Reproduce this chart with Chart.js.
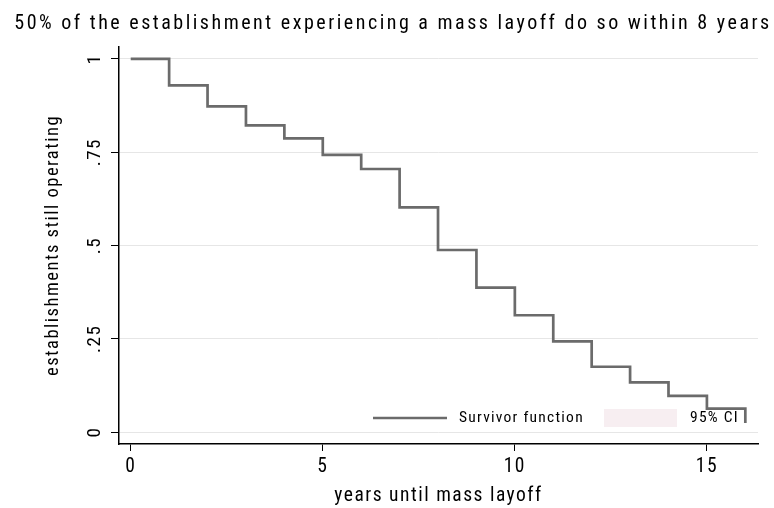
<!DOCTYPE html>
<html>
<head>
<meta charset="utf-8">
<script src="https://cdn.jsdelivr.net/npm/chart.js@4.4.1/dist/chart.umd.min.js"></script>
<style>
  html, body { margin: 0; padding: 0; background: #fff; }
  #wrap { width: 774px; height: 508px; }
</style>
</head>
<body>
<div id="wrap"><canvas id="km" width="774" height="508"></canvas></div>
<script>
// Kaplan-Meier estimate: share of establishments without a mass layoff
const chartTitle = '50% of the establishment experiencing a mass layoff do so within 8 years';
const years = [0, 1, 2, 3, 4, 5, 6, 7, 8, 9, 10, 11, 12, 13, 14, 15, 16];
const survivor = [1, 0.929, 0.873, 0.822, 0.787, 0.743, 0.705, 0.602, 0.488, 0.387,
                  0.313, 0.243, 0.175, 0.133, 0.097, 0.063, 0.024];
const xTickValues = [0, 5, 10, 15];
const yTickValues = [0, 0.25, 0.5, 0.75, 1];
const yTickLabels = ['0', '.25', '.5', '.75', '1'];
const seriesLabels = ['Survivor function', '95% CI'];

const FONT = "'Roboto Condensed', 'Liberation Sans', Arial, sans-serif";
const LINE_GREY = '#6b6b6b';
const CI_PINK = '#f7eef1';

// title, rotated y tick labels and the in-plot legend, stata style
const stataText = {
  id: 'stataText',
  beforeDraw(chart) {
    chart.ctx.letterSpacing = '1.5px';
  },
  afterDraw(chart) {
    const ctx = chart.ctx;
    const area = chart.chartArea;
    const yScale = chart.scales.y;

    ctx.save();
    ctx.fillStyle = '#000';

    // title
    ctx.font = '20px ' + FONT;
    ctx.letterSpacing = '2.5px';
    ctx.textAlign = 'center';
    ctx.textBaseline = 'alphabetic';
    ctx.fillText(chartTitle, 393, 29);

    // y tick labels, turned to read bottom-up
    ctx.font = '19px ' + FONT;
    ctx.letterSpacing = '1.5px';
    ctx.textBaseline = 'middle';
    yTickValues.forEach((v, i) => {
      const py = yScale.getPixelForValue(v);
      ctx.save();
      ctx.translate(area.left - 24, py);
      ctx.rotate(-Math.PI / 2);
      ctx.fillText(yTickLabels[i], 0, 0);
      ctx.restore();
    });

    // legend inside the plot, bottom right
    const ly = area.bottom - 26;
    const sf = chart.data.datasets[0];
    const ci = chart.data.datasets[1];
    ctx.strokeStyle = sf.borderColor;
    ctx.lineWidth = sf.borderWidth;
    ctx.beginPath();
    ctx.moveTo(area.left + 254, ly);
    ctx.lineTo(area.left + 328, ly);
    ctx.stroke();

    ctx.fillStyle = ci.backgroundColor;
    ctx.fillRect(area.left + 485, ly - 9, 73, 18);

    ctx.fillStyle = '#000';
    ctx.font = '15.5px ' + FONT;
    ctx.letterSpacing = '1.25px';
    ctx.textAlign = 'left';
    ctx.fillText(sf.label, area.left + 340, ly);
    ctx.fillText(ci.label, area.left + 571, ly);
    ctx.restore();
  }
};

const ctx = document.getElementById('km').getContext('2d');
const chart = new Chart(ctx, {
  type: 'line',
  data: {
    datasets: [
      {
        label: seriesLabels[0],
        data: years.map((x, i) => ({ x: x, y: survivor[i] })),
        borderColor: LINE_GREY,
        borderWidth: 2.7,
        stepped: true,
        pointRadius: 0,
        fill: false
      },
      {
        label: seriesLabels[1],
        data: [],
        backgroundColor: CI_PINK,
        borderColor: CI_PINK
      }
    ]
  },
  options: {
    responsive: false,
    animation: false,
    devicePixelRatio: 1,
    layout: { padding: { top: 47, right: 16, left: 42, bottom: 0 } },
    plugins: {
      legend: { display: false },
      title: { display: false },
      tooltip: { enabled: false }
    },
    scales: {
      x: {
        type: 'linear',
        min: -0.305,
        max: 16.33,
        afterBuildTicks: (s) => { s.ticks = xTickValues.map(v => ({ value: v })); },
        afterFit: (s) => { s.height = 64; },
        grid: { drawOnChartArea: false, drawTicks: true, tickLength: 7, tickColor: '#000', tickWidth: 1 },
        border: { color: '#000', width: 1.5 },
        ticks: {
          color: '#000',
          font: { family: FONT, size: 19.5 },
          padding: 4,
          maxRotation: 0,
          autoSkip: false
        },
        title: {
          display: true,
          text: 'years until mass layoff',
          color: '#000',
          font: { family: FONT, size: 19.5 },
          padding: { top: 0, bottom: 0 }
        }
      },
      y: {
        type: 'linear',
        min: -0.032,
        max: 1.032,
        afterBuildTicks: (s) => { s.ticks = yTickValues.map(v => ({ value: v })); },
        afterFit: (s) => { s.width = 77; },
        grid: { color: '#e6e6e6', lineWidth: 1, tickColor: '#000', tickLength: 8, tickWidth: 1 },
        border: { color: '#000', width: 1.5 },
        ticks: { display: false },
        title: {
          display: true,
          text: 'establishments still operating',
          color: '#000',
          font: { family: FONT, size: 18.5 },
          padding: { top: 0, bottom: 0 }
        }
      }
    }
  },
  plugins: [stataText]
});
</script>
</body>
</html>
